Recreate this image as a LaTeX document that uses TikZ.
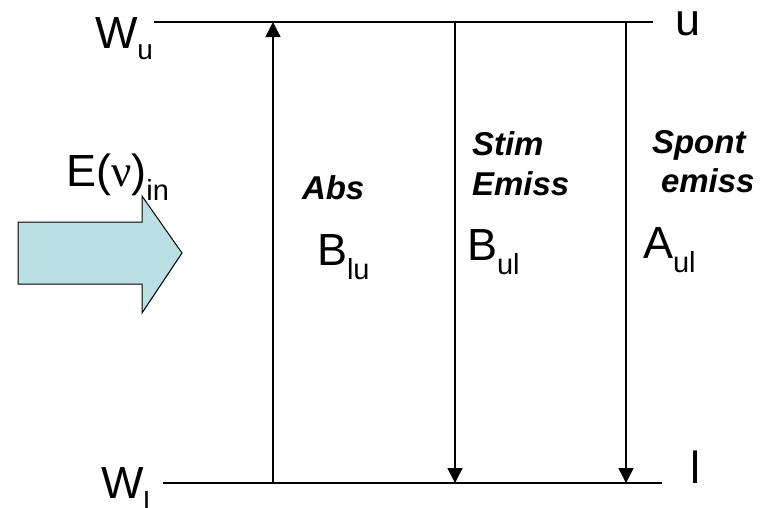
\documentclass[tikz,border=0pt]{standalone}
\usepackage{fontspec}
\setmainfont{Liberation Sans}
\newfontfamily\greekfont{Liberation Serif}
\usetikzlibrary{arrows.meta}
\definecolor{arrowfill}{RGB}{187,224,227}
\newcommand{\bigtxt}[1]{\fontsize{45}{45}\selectfont #1}
\newcommand{\sbs}[1]{\raisebox{-14pt}{\fontsize{29}{29}\selectfont #1}}
\newcommand{\lab}[1]{\fontsize{33}{33}\selectfont\bfseries\itshape #1}
\begin{document}
\begin{tikzpicture}[x=1pt,y=-1pt,
  level/.style={line width=2pt},
  trans/.style={line width=1.5pt,-{Triangle[width=15pt,length=15pt]}},
  txt/.style={anchor=base west,inner sep=0pt,outer sep=0pt}]
\useasboundingbox (0,0) rectangle (769,507);
% levels
\coordinate (ul) at (154,22);
\coordinate (ur) at (653,22);
\coordinate (ll) at (163,483);
\coordinate (lr) at (662,483);
\draw[level] (ul) -- (ur);
\draw[level] (ll) -- (lr);
% transitions
\coordinate (absb) at (273,483);
\coordinate (abst) at (273,22);
\coordinate (stimt) at (455,22);
\coordinate (stimb) at (455,483);
\coordinate (spt) at (626,22);
\coordinate (spb) at (626,483);
\draw[trans] (absb) -- (abst);
\draw[trans] (stimt) -- (stimb);
\draw[trans] (spt) -- (spb);
% level labels
\node[txt] (wu) at (95,48) {\bigtxt{W}\raisebox{-11pt}{\fontsize{28}{28}\selectfont u}};
\node[txt] (wl) at (101,498) {\bigtxt{W}\sbs{l}};
\node[txt] (u) at (675,35) {\bigtxt{u}};
\node[txt] (l) at (690,483) {\bigtxt{l}};
% incoming radiation
\draw[fill=arrowfill,line width=1pt] (18,222) -- (142,222) -- (142,196) -- (182,253) -- (142,313) -- (142,284) -- (18,284) -- cycle;
\node[txt] (e) at (66,186) {\bigtxt{E({\greekfont ν})}\sbs{in}};
% process labels
\node[txt] (abs) at (302,199) {\lab{Abs}};
\node[txt] (stim) at (472,155) {\lab{Stim}};
\node[txt] (emiss) at (472,195) {\lab{Emiss}};
\node[txt] (spont) at (652,153) {\lab{Spont}};
\node[txt] (emiss2) at (661,192) {\lab{emiss}};
\node[txt] (blu) at (317,265) {\bigtxt{B}\sbs{lu}};
\node[txt] (bul) at (467,260) {\bigtxt{B}\sbs{ul}};
\node[txt] (aul) at (643,258) {\bigtxt{A}\sbs{ul}};
\end{tikzpicture}
\end{document}
